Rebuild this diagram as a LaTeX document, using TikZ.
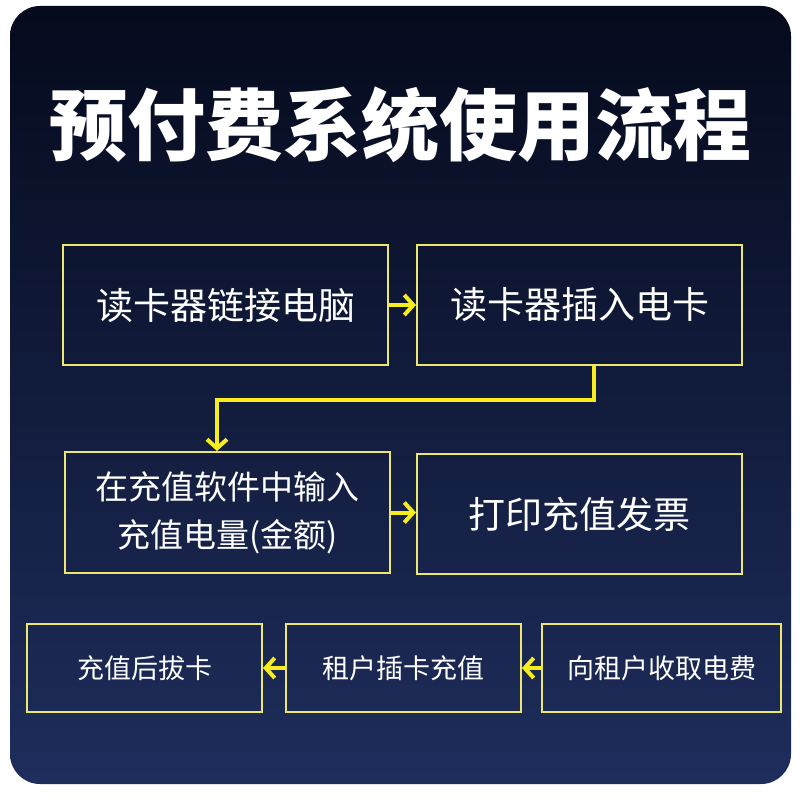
\documentclass[tikz,border=0pt]{standalone}
\usepackage{fontspec}
\setmainfont{Noto Sans CJK SC}
\usetikzlibrary{arrows.meta}
\definecolor{bgtop}{RGB}{5,10,28}
\definecolor{bgbot}{RGB}{30,45,92}
\definecolor{boxline}{RGB}{236,232,110}
\definecolor{arrline}{RGB}{246,236,30}
\tikzset{
  flowbox/.style={draw=boxline, line width=2pt, rectangle, text=white, align=center},
  bigbox/.style={flowbox, minimum width=325pt, minimum height=120pt, font=\fontsize{37}{48}\selectfont},
  smallbox/.style={flowbox, minimum width=235pt, minimum height=88pt, font=\fontsize{27}{30}\selectfont},
  arr/.style={draw=arrline, line width=4pt, -{Straight Barb[length=9pt,width=20pt,line width=4pt]}}
}
\begin{document}
\begin{tikzpicture}[x=1pt,y=-1pt]
\useasboundingbox (0,0) rectangle (800,800);
\fill[white] (0,0) rectangle (800,800);
\shade[top color=bgtop, bottom color=bgbot, rounded corners=30pt] (10,6) rectangle (791,784);
\node[text=white, font=\fontsize{78}{80}\selectfont\bfseries] (title) at (400,125) {预付费系统使用流程};
\node[bigbox] (b1) at (225.5,305) {读卡器链接电脑};
\node[bigbox] (b2) at (579.5,305) {读卡器插入电卡};
\node[bigbox, minimum height=121pt, font=\fontsize{33}{48}\selectfont] (b3) at (227.5,512.5) {在充值软件中输入\\充值电量(金额)};
\node[bigbox] (b4) at (579.5,514) {打印充值发票};
\node[smallbox] (b5) at (144.5,668) {充值后拔卡};
\node[smallbox] (b6) at (403.5,668) {租户插卡充值};
\node[smallbox, minimum width=239pt] (b7) at (661.5,668) {向租户收取电费};
\draw[arr] (b1.east) -- (b2.west);
\draw[arr] ([xshift=14.5pt]b2.south) |- (217,400) -- ([xshift=-10.5pt]b3.north);
\draw[arr] (b3.east) -- (b4.west |- b3.east);
\draw[arr] (b7.west) -- (b6.east);
\draw[arr] (b6.west) -- (b5.east);
\end{tikzpicture}
\end{document}
